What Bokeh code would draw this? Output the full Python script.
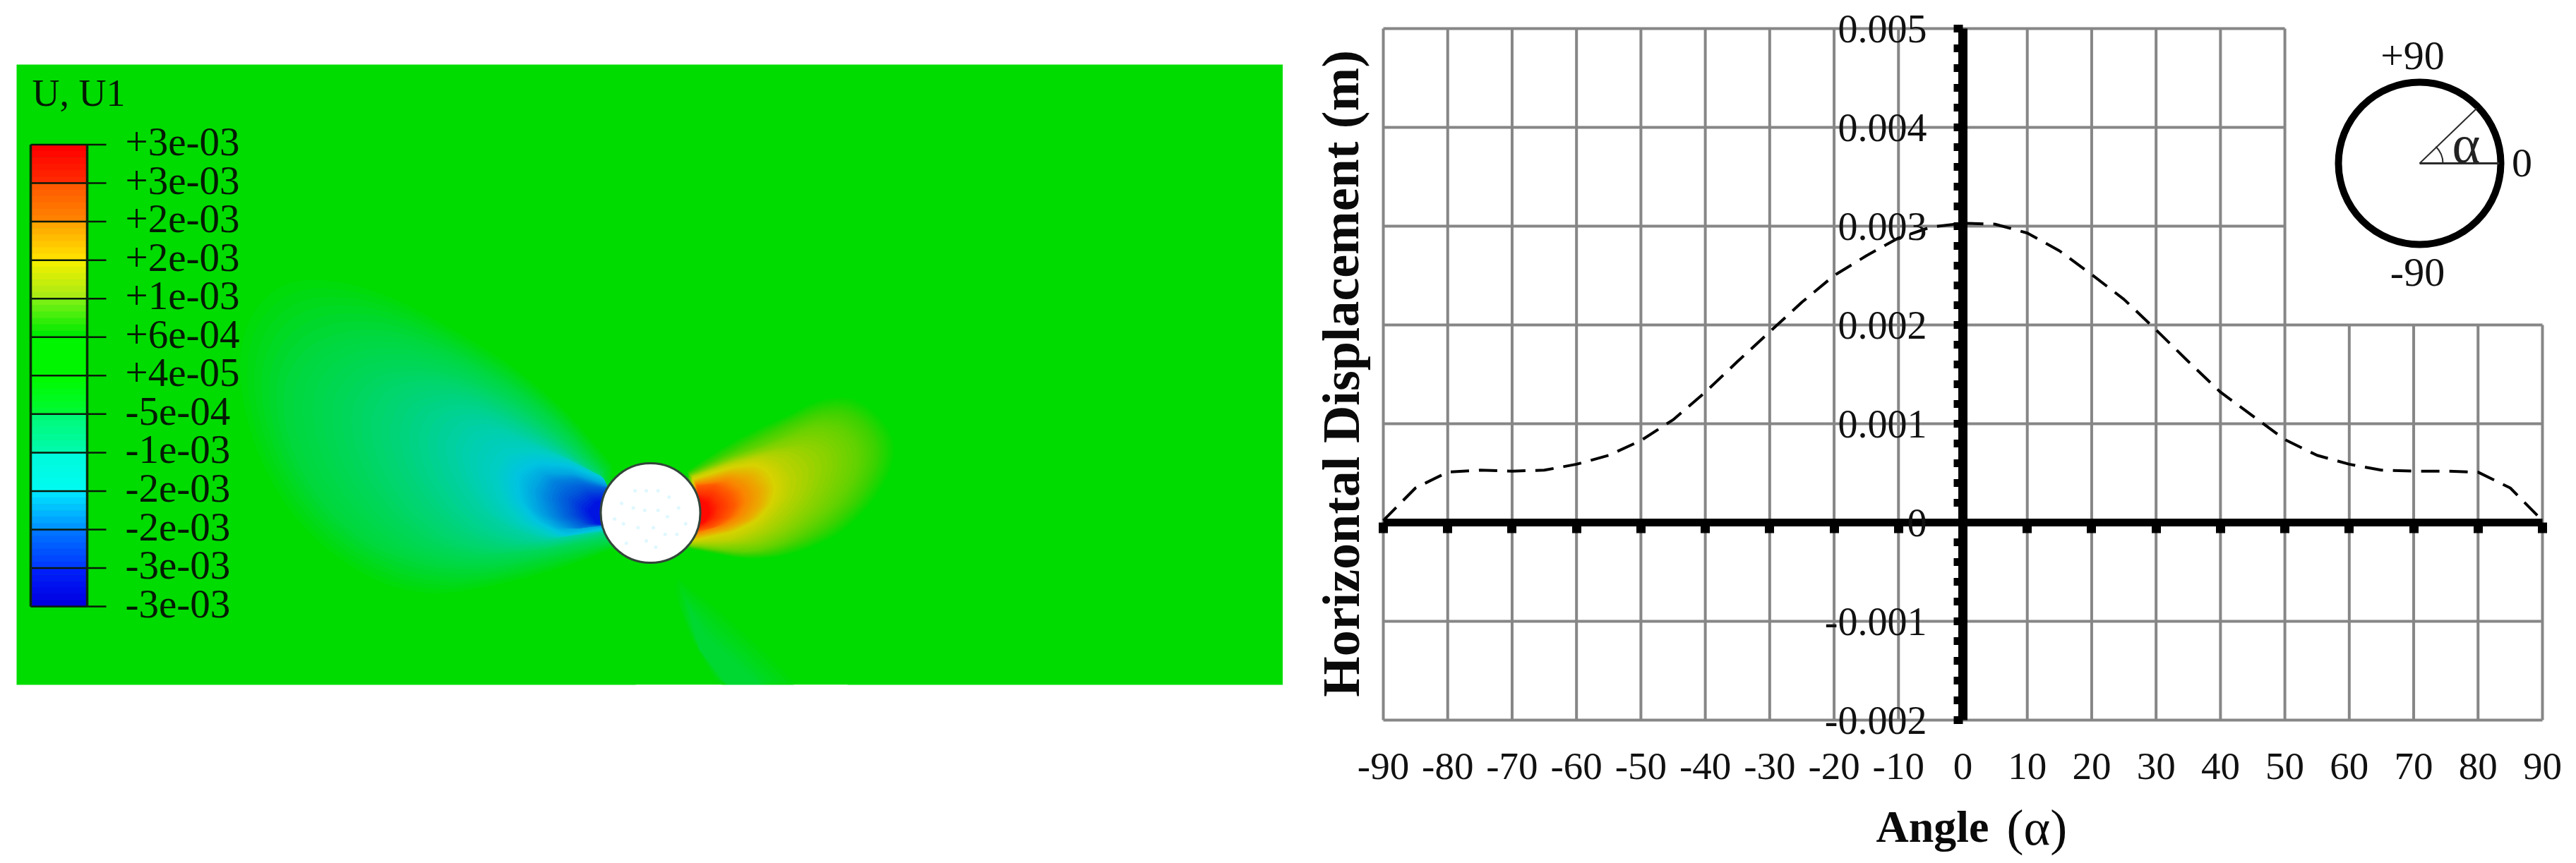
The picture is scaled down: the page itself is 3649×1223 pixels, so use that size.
import math
import numpy as np
from bokeh.core.properties import value
from bokeh.embed import file_html
from bokeh.layouts import column, row
from bokeh.models import FixedTicker, LinearAxis, Range1d
from bokeh.plotting import figure
from bokeh.resources import INLINE

SERIF = "Liberation Serif"

# ---- data: displacement curve -------------------------------------------
angle_deg = [-90, -85, -80, -75, -70, -65, -60, -55, -50, -45, -40, -35, -30, -25, -20, -15, -10, -5, 0,
             5, 10, 15, 20, 25, 30, 35, 40, 45, 50, 55, 60, 65, 70, 75, 80, 85, 90]
displacement_m = [0.00002, 0.00035, 0.00051, 0.00053, 0.00052, 0.00053, 0.00059, 0.00068, 0.00083, 0.00104,
                  0.00132, 0.00163, 0.00193, 0.00223, 0.00250, 0.00270, 0.00288, 0.00299, 0.00303,
                  0.00302, 0.00293, 0.00275, 0.00251, 0.00226, 0.00195, 0.00163, 0.00132, 0.00108, 0.00084,
                  0.00068, 0.00059, 0.00053, 0.00052, 0.00052, 0.00051, 0.00035, 0.00002]
x_ticks = list(range(-90, 100, 10))
y_ticks = [-0.002, -0.001, 0.0, 0.001, 0.002, 0.003, 0.004, 0.005]
y_minor_ticks = [-0.0018, -0.0016, -0.0014, -0.0012, -0.0008, -0.0006, -0.0004, -0.0002,
                 0.0002, 0.0004, 0.0006, 0.0008, 0.0012, 0.0014, 0.0016, 0.0018,
                 0.0022, 0.0024, 0.0026, 0.0028, 0.0032, 0.0034, 0.0036, 0.0038,
                 0.0042, 0.0044, 0.0046, 0.0048]
y_tick_labels = ["-0.002", "-0.001", "0", "0.001", "0.002", "0.003", "0.004", "0.005"]
inset_labels = ["+90", "0", "-90"]

# ---- data: U1 contour legend ---------------------------------------------
legend_labels = ["+3e-03", "+3e-03", "+2e-03", "+2e-03", "+1e-03", "+6e-04", "+4e-05",
                 "-5e-04", "-1e-03", "-2e-03", "-2e-03", "-3e-03", "-3e-03"]
legend_band_colors = [((255, 0, 0), (255, 40, 0)), ((255, 90, 0), (255, 130, 0)), ((255, 165, 0), (255, 222, 0)),
                      ((240, 240, 0), (170, 235, 20)), ((120, 240, 20), (0, 235, 0)), ((0, 245, 0), (0, 245, 0)),
                      ((0, 250, 0), (0, 250, 50)), ((0, 250, 120), (0, 250, 170)), ((0, 250, 220), (0, 250, 240)),
                      ((0, 225, 255), (0, 150, 255)), ((0, 115, 255), (0, 60, 255)), ((0, 30, 250), (0, 0, 225))]

# ---- data: contour outlines, outer to inner -----------------------------
# cold lobe, in units of a 620 px crop scaled to 1568 with origin (250, 330)
cold_colors = [(0, 219, 10), (0, 216, 60), (0, 215, 90), (0, 212, 125), (0, 208, 165), (0, 205, 200),
               (0, 195, 225), (0, 165, 225), (0, 125, 222), (0, 80, 218), (0, 20, 225)]
cold_outlines = [
    [(1560, 830), (1400, 640), (1200, 470), (1000, 350), (800, 240), (600, 170), (400, 160), (280, 250), (220, 400), (230, 600), (290, 800), (400, 1000), (550, 1150), (750, 1270), (950, 1300), (1150, 1260), (1350, 1210), (1568, 1130)],
    [(1530, 850), (1380, 680), (1200, 540), (1000, 430), (800, 350), (620, 340), (460, 400), (380, 520), (380, 680), (440, 850), (550, 1010), (700, 1130), (900, 1200), (1100, 1210), (1300, 1170), (1568, 1110)],
    [(1520, 860), (1370, 720), (1210, 600), (1030, 510), (850, 470), (680, 490), (590, 590), (590, 720), (650, 880), (760, 1020), (900, 1120), (1080, 1160), (1300, 1140), (1568, 1090)],
    [(1510, 870), (1360, 750), (1220, 660), (1080, 590), (950, 570), (830, 610), (790, 720), (830, 860), (920, 990), (1030, 1080), (1170, 1120), (1330, 1120), (1568, 1070)],
    [(1510, 870), (1370, 790), (1250, 730), (1130, 680), (1030, 690), (990, 770), (1020, 880), (1090, 990), (1190, 1060), (1320, 1100), (1568, 1060)],
    [(1520, 870), (1400, 810), (1280, 780), (1180, 790), (1140, 860), (1170, 960), (1240, 1040), (1360, 1090), (1568, 1060)],
    [(1530, 880), (1400, 830), (1290, 820), (1215, 860), (1220, 950), (1280, 1030), (1390, 1085), (1568, 1050)],
    [(1540, 900), (1420, 860), (1310, 860), (1270, 920), (1290, 1000), (1370, 1060), (1568, 1050)],
    [(1540, 910), (1430, 880), (1350, 890), (1330, 950), (1360, 1020), (1430, 1060), (1568, 1040)],
    [(1568, 920), (1460, 915), (1400, 950), (1410, 1010), (1460, 1045), (1568, 1050)],
    [(1568, 950), (1500, 960), (1470, 995), (1500, 1040), (1568, 1050)],
]
# warm lobe, in units of a 360 px crop scaled by 3 with origin (940, 520)
warm_colors = [(10, 217, 0), (60, 210, 0), (100, 210, 0), (140, 210, 0), (190, 210, 0), (215, 210, 0),
               (235, 170, 0), (250, 130, 0), (255, 85, 0), (255, 40, 0), (255, 10, 0)]
warm_outlines = [
    [(100, 440), (250, 340), (400, 260), (520, 210), (650, 140), (790, 120), (900, 190), (970, 280), (985, 360), (950, 470), (880, 580), (760, 700), (620, 770), (480, 810), (340, 815), (200, 790), (100, 770)],
    [(105, 450), (260, 370), (400, 300), (530, 240), (650, 190), (770, 180), (860, 240), (910, 330), (900, 430), (830, 560), (720, 670), (600, 740), (460, 790), (330, 800), (110, 765)],
    [(110, 455), (280, 380), (420, 330), (540, 280), (640, 240), (740, 250), (810, 310), (830, 390), (800, 490), (720, 600), (620, 680), (500, 750), (380, 785), (250, 780), (110, 760)],
    [(115, 460), (290, 390), (430, 350), (530, 330), (620, 320), (690, 360), (700, 430), (670, 520), (610, 610), (520, 690), (400, 750), (250, 765), (115, 755)],
    [(120, 465), (280, 410), (410, 380), (490, 400), (540, 470), (530, 550), (470, 630), (400, 690), (290, 735), (120, 745)],
    [(125, 475), (280, 425), (390, 410), (450, 440), (480, 510), (460, 580), (400, 650), (300, 700), (130, 735)],
    [(130, 485), (280, 450), (370, 460), (420, 520), (410, 590), (360, 650), (270, 690), (135, 720)],
    [(135, 495), (270, 480), (335, 520), (350, 570), (320, 630), (260, 670), (140, 705)],
    [(140, 505), (220, 500), (280, 540), (300, 590), (270, 640), (210, 680), (140, 695)],
    [(145, 540), (200, 550), (230, 590), (215, 640), (170, 670), (145, 680)],
    [(150, 560), (185, 580), (195, 620), (175, 655), (150, 665)],
]
# faint tail below the hole, in picture pixels
tail_colors = [(0, 219, 8), (0, 216, 50)]
tail_outlines = [
    [(959, 819), (1017, 864), (1080, 921), (1131, 972), (1017, 972), (976, 901), (956, 840)],
    [(975, 860), (1000, 900), (1050, 945), (1080, 972), (1030, 972), (990, 920)],
]
# faint mesh nodes showing through the hole, in units of a 340 px crop scaled by 3 with origin (700, 560)
hole_dots = [(597, 405), (645, 405), (695, 405), (742, 432), (540, 458), (590, 478), (638, 488), (695, 488),
             (782, 478), (735, 515), (510, 525), (548, 545), (610, 562), (675, 562), (812, 545), (725, 590),
             (775, 590), (560, 628), (645, 618), (685, 645)]


def rgb(c):
    return "#%02x%02x%02x" % tuple(int(round(v)) for v in c)


def resample(outline, n=90):
    """Even spacing along the read outline, corners softened, so that neighbours can be shaded between."""
    pts = np.array(outline, dtype=float)
    s = np.r_[0, np.cumsum(np.hypot(*np.diff(pts, axis=0).T))]
    t = np.linspace(0, s[-1], n)
    xy = np.c_[np.interp(t, s, pts[:, 0]), np.interp(t, s, pts[:, 1])]
    for _ in range(6):
        xy[1:-1] = 0.25 * xy[:-2] + 0.5 * xy[1:-1] + 0.25 * xy[2:]
    return xy


def shade_field(fig, outlines, colors, to_x, to_y, substeps=6):
    """Fill the read contour levels, with the colour graded between neighbouring levels."""
    curves = [resample(o) for o in outlines]
    for i in range(len(curves)):
        steps = substeps if i < len(curves) - 1 else 1
        for k in range(steps):
            f = k / steps
            xy = curves[i] if k == 0 else (1 - f) * curves[i] + f * curves[i + 1]
            col = colors[i] if k == 0 else [(1 - f) * a + f * b for a, b in zip(colors[i], colors[i + 1])]
            fig.patch(to_x(xy[:, 0]).tolist(), to_y(xy[:, 1]).tolist(), fill_color=rgb(col), line_color=None)


# ---- layout constants (picture pixels) ---
X0_PX, PX_PER_DEG, Y0_PX, PX_PER_M = 2780.0, 9.122, 740.0, 140000.0
COL_LEFT, COL_RIGHT = 1660, 3649
B_LEFT, B_RIGHT, B_TOP = 186, 11, 12
FRAME_BOTTOM, RIGHT_H = 1048, 1133
B_BOTTOM = RIGHT_H - FRAME_BOTTOM


def dx(px):
    return (px - X0_PX) / PX_PER_DEG


def dy(py):
    return (Y0_PX - py) / PX_PER_M


# ======================= left panel (picture pixels) =======================
left = figure(width=1817, height=RIGHT_H, x_range=Range1d(0, 1817), y_range=Range1d(FRAME_BOTTOM, B_TOP),
              output_backend="svg", toolbar_location=None, min_border_left=0, min_border_right=0,
              min_border_top=B_TOP, min_border_bottom=B_BOTTOM,
              background_fill_color="white", border_fill_color=None, outline_line_color=None)
left.axis.visible = False
left.grid.visible = False

left.quad(left=[23], right=[1817], top=[91], bottom=[970], fill_color="#00dc00", line_color=None)

shade_field(left, cold_outlines, cold_colors, lambda v: 250 + v * 620 / 1568, lambda v: 330 + v * 620 / 1568)
shade_field(left, warm_outlines, warm_colors, lambda v: 940 + v / 3, lambda v: 520 + v / 3)
shade_field(left, tail_outlines, tail_colors, lambda v: v, lambda v: v)
left.quad(left=[900], right=[1200], top=[970], bottom=[985], fill_color="white", line_color=None)

left.scatter([921], [726.5], size=141, marker="circle", fill_color="white", line_color="#33453a", line_width=3)
left.scatter([700 + d[0] / 3 for d in hole_dots], [560 + d[1] / 3 for d in hole_dots], size=5, marker="circle",
             fill_color="#dff8ff", line_color=None)

# legend bar
bar_x0, bar_x1, tick_x1, bar_top, step = 43, 123, 150, 204.5, 54.55
for i, (c_top, c_bot) in enumerate(legend_band_colors):
    for k in range(6):
        f = k / 5
        c = [a + (b - a) * f for a, b in zip(c_top, c_bot)]
        y0 = bar_top + step * (i + k / 6)
        left.quad(left=[bar_x0], right=[bar_x1], top=[y0], bottom=[y0 + step / 6 + 0.6], fill_color=rgb(c), line_color=None)
tick_ys = [bar_top + step * i for i in range(len(legend_labels))]
left.segment(x0=[bar_x0] * len(tick_ys), x1=[tick_x1] * len(tick_ys), y0=tick_ys, y1=tick_ys,
             line_color="#0a1a0a", line_width=2.5)
left.segment(x0=[bar_x0, bar_x1], x1=[bar_x0, bar_x1], y0=[bar_top] * 2, y1=[tick_ys[-1]] * 2,
             line_color="#0a2a0a", line_width=3.5)
left.text(x=[177] * len(tick_ys), y=[t - 4 for t in tick_ys], text=legend_labels, text_font=value(SERIF),
          text_font_size="57px", text_baseline="middle", text_align="left", text_color="#041a04")
left.text(x=[45], y=[131], text=["U, U1"], text_font=value(SERIF), text_font_size="54px",
          text_baseline="middle", text_align="left", text_color="#041a04")

# ======================= right panel (graph) ===============================
right = figure(width=COL_RIGHT - COL_LEFT, height=RIGHT_H,
               x_range=Range1d(dx(COL_LEFT + B_LEFT), dx(COL_RIGHT - B_RIGHT)),
               y_range=Range1d(dy(FRAME_BOTTOM), dy(B_TOP)),
               output_backend="svg", toolbar_location=None,
               min_border_left=B_LEFT, min_border_right=B_RIGHT, min_border_top=B_TOP, min_border_bottom=B_BOTTOM,
               background_fill_color=None, border_fill_color=None, outline_line_color=None)
right.grid.visible = False

# grid, notched at the top right where the inset sits
notch_x, notch_y = 50, 0.002
GRID = "#868686"
right.segment(x0=x_ticks, x1=x_ticks, y0=[y_ticks[0]] * len(x_ticks),
              y1=[y_ticks[-1] if t <= notch_x else notch_y for t in x_ticks], line_color=GRID, line_width=4)
right.segment(x0=[x_ticks[0]] * len(y_ticks), x1=[x_ticks[-1] if t <= notch_y else notch_x for t in y_ticks],
              y0=y_ticks, y1=y_ticks, line_color=GRID, line_width=4)

right.line(angle_deg, displacement_m, line_color="black", line_width=4, line_dash="26 14")

# bottom axis: labels only
xa = right.xaxis[0]
xa.ticker = FixedTicker(ticks=x_ticks)
xa.axis_line_color = None
xa.major_tick_line_color = None
xa.minor_tick_line_color = None
xa.major_tick_out = 0
xa.major_tick_in = 0
xa.major_label_standoff = 19
xa.major_label_text_font = SERIF
xa.major_label_text_font_size = "55px"
xa.major_label_text_color = "#111111"
xa.major_label_overrides = {t: str(t) for t in x_ticks}

# zero axis: thick line and square ticks pointing down, no labels
xz = LinearAxis(ticker=FixedTicker(ticks=x_ticks), fixed_location=0, bounds=(x_ticks[0], x_ticks[-1]),
                axis_line_width=11, axis_line_color="black", major_tick_line_color="black",
                major_tick_line_width=13, major_tick_in=15, major_tick_out=0, minor_tick_line_color=None,
                major_label_overrides={t: "" for t in x_ticks}, major_label_standoff=0,
                major_label_text_font_size="1px")
right.add_layout(xz, "above")

# y axis at angle 0, with its comb of ticks on the left
ya = right.yaxis[0]
ya.ticker = FixedTicker(ticks=y_ticks, minor_ticks=y_minor_ticks)
ya.fixed_location = 0
ya.bounds = (y_ticks[0], y_ticks[-1])
ya.axis_line_width = 13
ya.axis_line_color = "black"
ya.major_tick_line_color = "black"
ya.minor_tick_line_color = "black"
ya.major_tick_line_width = 11
ya.minor_tick_line_width = 11
ya.major_tick_in = 0
ya.minor_tick_in = 0
ya.major_tick_out = 13
ya.minor_tick_out = 13
ya.major_label_standoff = 38
ya.major_label_text_font = SERIF
ya.major_label_text_font_size = "56px"
ya.major_label_text_color = "#111111"
ya.major_label_orientation = "horizontal"
ya.major_label_overrides = dict(zip(y_ticks, y_tick_labels))

# y title: inside the frame of this figure
right.text(x=[dx(1899)], y=[dy(529)], text=["Horizontal Displacement (m)"], angle=[math.pi / 2],
           text_font=value(SERIF), text_font_style="bold", text_font_size="74px", text_align="center",
           text_baseline="middle", text_color="#0a0a0a")

# inset: section sketch with the definition of the angle
cx, cy = dx(3427), dy(231)
right.scatter([cx], [cy], size=230, marker="circle", fill_color=None, line_color="black", line_width=10)
right.line([cx, dx(3540)], [cy, cy], line_color="#2a2a2a", line_width=3)
right.line([cx, dx(3508)], [cy, dy(153)], line_color="#2a2a2a", line_width=2)
right.arc([cx], [cy], radius=33 / PX_PER_DEG, start_angle=0, end_angle=math.radians(46), line_color="#2a2a2a", line_width=2)
right.text(x=[dx(3417), dx(3572), dx(3424)], y=[dy(78), dy(230), dy(385)], text=inset_labels,
           text_font=value(SERIF), text_font_size="58px", text_align="center", text_baseline="middle", text_color="#111111")
right.text(x=[dx(3493)], y=[dy(203)], text=["α"], text_font=value(SERIF), text_font_size="76px",
           text_align="center", text_baseline="middle", text_color="#222222")

# x title, bold word with regular bracket: a strip under the graph (picture pixels)
footer = figure(width=COL_RIGHT - COL_LEFT, height=90, x_range=Range1d(COL_LEFT + B_LEFT, COL_RIGHT - B_RIGHT),
                y_range=Range1d(1223, 1133), output_backend="svg", toolbar_location=None,
                min_border_left=B_LEFT, min_border_right=B_RIGHT, min_border_top=0, min_border_bottom=0,
                background_fill_color=None, border_fill_color=None, outline_line_color=None)
footer.axis.visible = False
footer.grid.visible = False
footer.text(x=[2657], y=[1171], text=["Angle"], text_font=value(SERIF), text_font_style="bold", text_font_size="64px",
            text_align="left", text_baseline="middle", text_color="#0a0a0a")
footer.text(x=[2842], y=[1172], text=["(α)"], text_font=value(SERIF), text_font_size="72px",
            text_align="left", text_baseline="middle", text_color="#0a0a0a")

page = row(left, column(right, footer, spacing=0, margin=(0, 0, 0, COL_LEFT - 1817)), spacing=0)
open("out.html", "w").write(file_html(page, INLINE))
